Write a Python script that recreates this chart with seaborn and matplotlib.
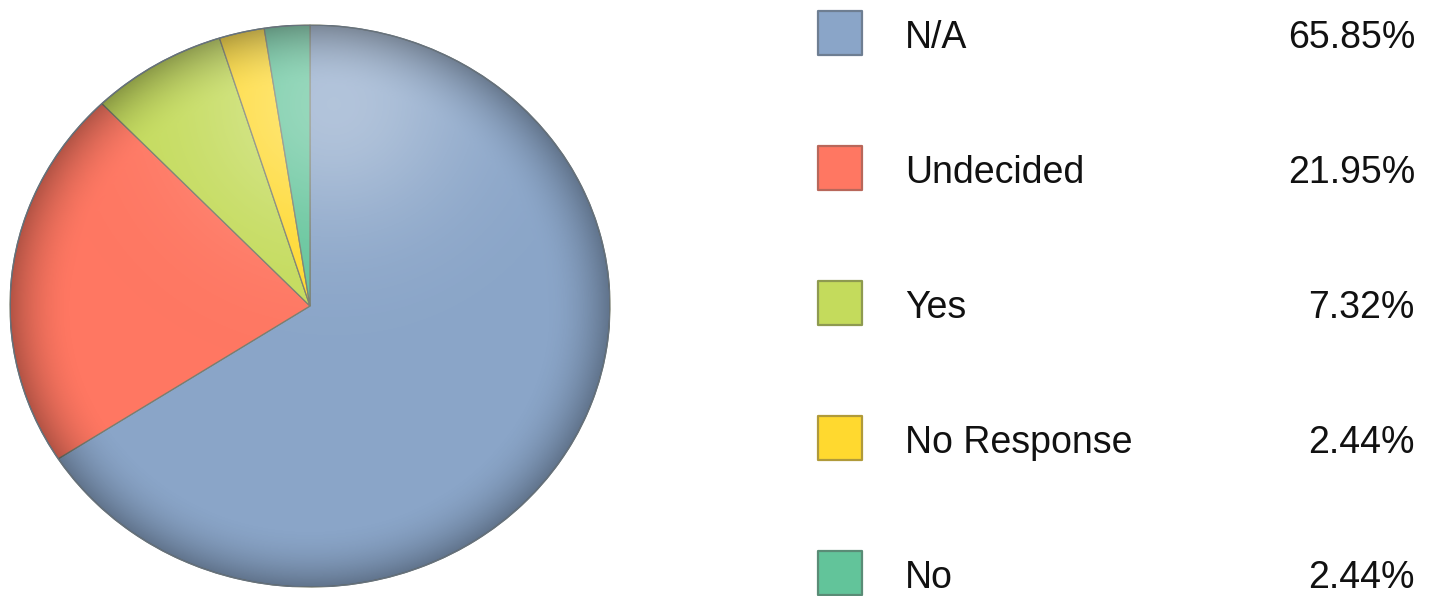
import numpy as np
import matplotlib
matplotlib.use("Agg")
import matplotlib.pyplot as plt
import seaborn as sns
from matplotlib.patches import Circle

labels = ["N/A", "Undecided", "Yes", "No Response", "No"]
shares = [65.85, 21.95, 7.32, 2.44, 2.44]
colors = ["#8AA5C8", "#FF7762", "#C4DB5C", "#FFD92F", "#62C49A"]
edge_colors = ["#6E7E92", "#B8675A", "#8E9A50", "#B09A3A", "#5A8C76"]

sns.set_theme(style="white")
plt.rcParams["font.family"] = ["Liberation Sans", "DejaVu Sans"]

fig = plt.figure(figsize=(14.3, 5.96), dpi=100)

# pie, slightly squashed like the original
ax = fig.add_axes([10 / 1430, 9 / 596, 600 / 1430, 562 / 596])
wedges, _ = ax.pie(
    shares,
    colors=colors,
    startangle=90,
    counterclock=False,
    radius=1.0,
    wedgeprops={"edgecolor": "#7A7F70", "linewidth": 0.9},
)
ax.set_aspect("auto")
ax.axis("off")

# soft highlight and darker rim
gx, gy = np.meshgrid(np.linspace(-1, 1, 600), np.linspace(-1, 1, 600))
r = np.hypot(gx, gy)
glow = np.exp(-((gx - 0.08) ** 2 + (gy - 0.72) ** 2) / 0.2) * 0.35
rim = np.clip((r - 0.78) / 0.22, 0, 1) ** 2 * 0.3
shade = np.zeros(gx.shape + (4,))
shade[..., :3] = (glow / (glow + rim + 1e-9))[..., None]
shade[..., 3] = np.clip(glow + rim, 0, 1)
img = ax.imshow(shade, extent=(-1, 1, -1, 1), origin="lower", zorder=3, aspect="auto")
img.set_clip_path(Circle((0, 0), 1.0, transform=ax.transData))
ax.add_patch(Circle((0, 0), 1.0, fill=False, edgecolor="#66727E", linewidth=1.0, zorder=4))
ax.set_xlim(-1.0, 1.0)
ax.set_ylim(-1.0, 1.0)

# legend drawn as its own panel
lg = fig.add_axes([0, 0, 1, 1])
lg.set_xlim(0, 1430)
lg.set_ylim(596, 0)
lg.axis("off")
rows = 33 + 135 * np.arange(len(labels))
sns.scatterplot(
    x=np.full(len(labels), 840),
    y=rows,
    hue=labels,
    palette=colors,
    marker="s",
    s=1000,
    edgecolor=edge_colors,
    linewidth=1.6,
    legend=False,
    ax=lg,
)
for y, lab, val in zip(rows, labels, shares):
    lg.text(905, y + 15, lab, fontsize=27, va="baseline", ha="left", color="#111111")
    lg.text(1415, y + 15, f"{val:.2f}%", fontsize=27, va="baseline", ha="right", color="#111111")

fig.savefig("out.png", dpi=100, facecolor="white")
